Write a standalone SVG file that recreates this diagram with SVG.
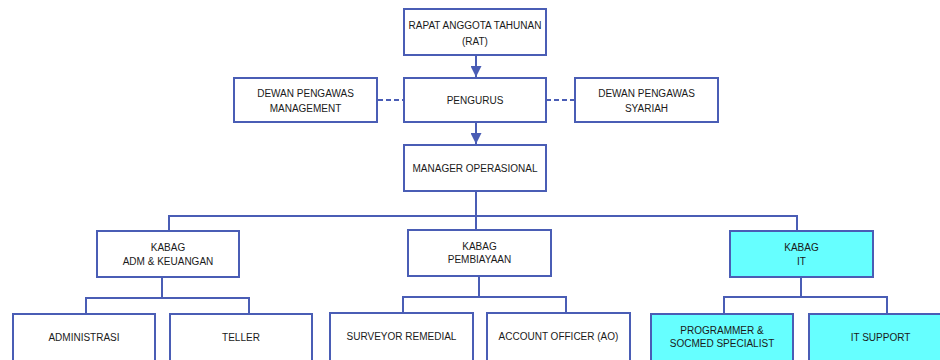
<svg xmlns="http://www.w3.org/2000/svg" width="940" height="360" viewBox="0 0 940 360">
  <defs>
    <style>
      .box { fill: #ffffff; stroke: #4a5db5; stroke-width: 2; }
      .it { fill: #66ffff; }
      .lbl { font-family: "Liberation Sans", Arial, sans-serif; font-size: 10px; fill: #1a1a1a; text-anchor: middle; }
      .wire { fill: none; stroke: #4a5db5; stroke-width: 2; }
      .dash { fill: none; stroke: #4a5db5; stroke-width: 2; stroke-dasharray: 5 3; }
    </style>
    <marker id="arrow" viewBox="0 0 10 10" refX="10" refY="5" markerWidth="5.5" markerHeight="5.5" orient="auto" markerUnits="strokeWidth">
      <path d="M0,0 L10,5 L0,10 z" fill="#4a5db5"/>
    </marker>
  </defs>
  <rect width="940" height="360" fill="#ffffff"/>

  <g id="connectors">
    <line class="wire" x1="476" y1="55" x2="476" y2="77" marker-end="url(#arrow)"/>
    <line class="wire" x1="476" y1="122" x2="476" y2="144" marker-end="url(#arrow)"/>
    <line class="dash" x1="378" y1="100" x2="403" y2="100"/>
    <line class="dash" x1="546" y1="100" x2="575" y2="100"/>
    <path class="wire" d="M476,191 V231 M169,231 V216 H797 V231"/>
    <path class="wire" d="M162,277 V298 M86,314 V298 H249 V314"/>
    <path class="wire" d="M479,276 V297 M403,313 V297 H566 V313"/>
    <path class="wire" d="M801,277 V297 M724,314 V297 H887 V314"/>
  </g>

  <g id="rat">
    <rect class="box" x="404" y="9" width="142" height="46"/>
    <text class="lbl" x="475" y="29">RAPAT ANGGOTA TAHUNAN</text>
    <text class="lbl" x="475" y="45">(RAT)</text>
  </g>
  <g id="dewan-management">
    <rect class="box" x="234" y="78" width="143" height="44"/>
    <text class="lbl" x="305.5" y="97">DEWAN PENGAWAS</text>
    <text class="lbl" x="305.5" y="111.5">MANAGEMENT</text>
  </g>
  <g id="pengurus">
    <rect class="box" x="404" y="78" width="142" height="44"/>
    <text class="lbl" x="475" y="103.5">PENGURUS</text>
  </g>
  <g id="dewan-syariah">
    <rect class="box" x="575" y="78" width="143" height="44"/>
    <text class="lbl" x="646.5" y="97">DEWAN PENGAWAS</text>
    <text class="lbl" x="646.5" y="111.5">SYARIAH</text>
  </g>
  <g id="manager">
    <rect class="box" x="404" y="145" width="142" height="46"/>
    <text class="lbl" x="475" y="172">MANAGER OPERASIONAL</text>
  </g>

  <g id="kabag-adm">
    <rect class="box" x="97" y="231" width="142" height="46"/>
    <text class="lbl" x="168" y="251">KABAG</text>
    <text class="lbl" x="168" y="264.5">ADM &amp; KEUANGAN</text>
  </g>
  <g id="kabag-pembiayaan">
    <rect class="box" x="408" y="230" width="143" height="46"/>
    <text class="lbl" x="479.5" y="249.5">KABAG</text>
    <text class="lbl" x="479.5" y="263">PEMBIAYAAN</text>
  </g>
  <g id="kabag-it">
    <rect class="box it" x="730" y="231" width="143" height="46"/>
    <text class="lbl" x="801.5" y="251">KABAG</text>
    <text class="lbl" x="801.5" y="264.5">IT</text>
  </g>

  <g id="administrasi">
    <rect class="box" x="13" y="314" width="142" height="50"/>
    <text class="lbl" x="84" y="341">ADMINISTRASI</text>
  </g>
  <g id="teller">
    <rect class="box" x="170" y="314" width="142" height="50"/>
    <text class="lbl" x="241" y="341">TELLER</text>
  </g>
  <g id="surveyor">
    <rect class="box" x="330" y="313" width="143" height="50"/>
    <text class="lbl" x="401.5" y="340">SURVEYOR REMEDIAL</text>
  </g>
  <g id="account-officer">
    <rect class="box" x="487" y="313" width="143" height="50"/>
    <text class="lbl" x="558.5" y="340">ACCOUNT OFFICER (AO)</text>
  </g>
  <g id="programmer">
    <rect class="box it" x="651" y="314" width="142" height="50"/>
    <text class="lbl" x="722" y="333.5">PROGRAMMER &amp;</text>
    <text class="lbl" x="722" y="347">SOCMED SPECIALIST</text>
  </g>
  <g id="it-support">
    <rect class="box it" x="809" y="314" width="143" height="50"/>
    <text class="lbl" x="880.5" y="341">IT SUPPORT</text>
  </g>
</svg>
